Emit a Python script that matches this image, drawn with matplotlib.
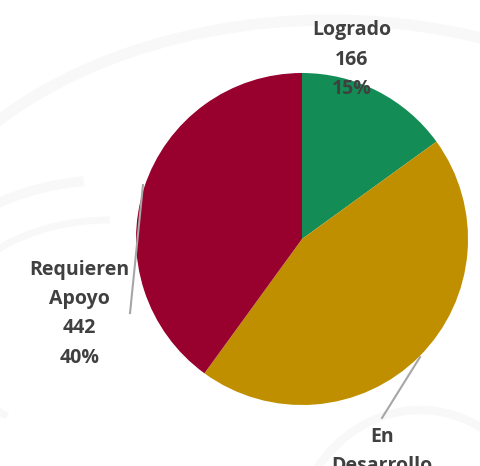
import matplotlib.pyplot as plt
from matplotlib.patches import Arc

categorias = ['Logrado', 'En\nDesarrollo', 'Requieren\nApoyo']
valores = [166, 497, 442]
colores = ['#138d55', '#bf8f00', '#98002e']

# label anchors (data coords of the pie axes) and leader lines
pos_etiq = [(0.30, 1.08, 'center'), (0.48, -1.13, 'top'), (-1.34, -0.45, 'center')]
lineas = [None, [(0.711, -0.711), (0.482, -1.078)], [(-0.958, 0.325), (-1.036, -0.446)]]

fig = plt.figure(figsize=(4.8, 4.66), dpi=100)

# faint watermark arcs in the background
bg = fig.add_axes([0, 0, 1, 1])
bg.set_xlim(0, 480)
bg.set_ylim(466, 0)
bg.axis('off')
for (cx, cy, w, h, t1, t2, lw) in [(330, 330, 900, 620, 200, 340, 8),
                                   (110, 330, 420, 300, 150, 260, 7),
                                   (110, 330, 330, 220, 140, 270, 5),
                                   (420, 560, 260, 300, 180, 300, 6)]:
    bg.add_patch(Arc((cx, cy), w, h, theta1=t1, theta2=t2, color='#f8f8f8', lw=lw))

ax = fig.add_axes([136/480, (466-239-166)/466, 332/480, 332/466])
ax.pie(valores, colors=colores, startangle=90, counterclock=False, radius=1,
       wedgeprops=dict(linewidth=0))
ax.set_xlim(-1, 1)
ax.set_ylim(-1, 1)
ax.set_aspect('equal')

total = sum(valores)
for cat, v, (x, y, va), ln in zip(categorias, valores, pos_etiq, lineas):
    txt = '%s\n%d\n%d%%' % (cat, v, round(100 * v / total))
    ax.text(x, y, txt, ha='center', va=va, fontsize=14, fontweight='bold',
            family='Open Sans', color='#404040', linespacing=1.63, clip_on=False)
    if ln:
        ax.plot([ln[0][0], ln[1][0]], [ln[0][1], ln[1][1]], color='#a6a6a6',
                lw=1.5, clip_on=False)

fig.savefig('out.png', dpi=100)
